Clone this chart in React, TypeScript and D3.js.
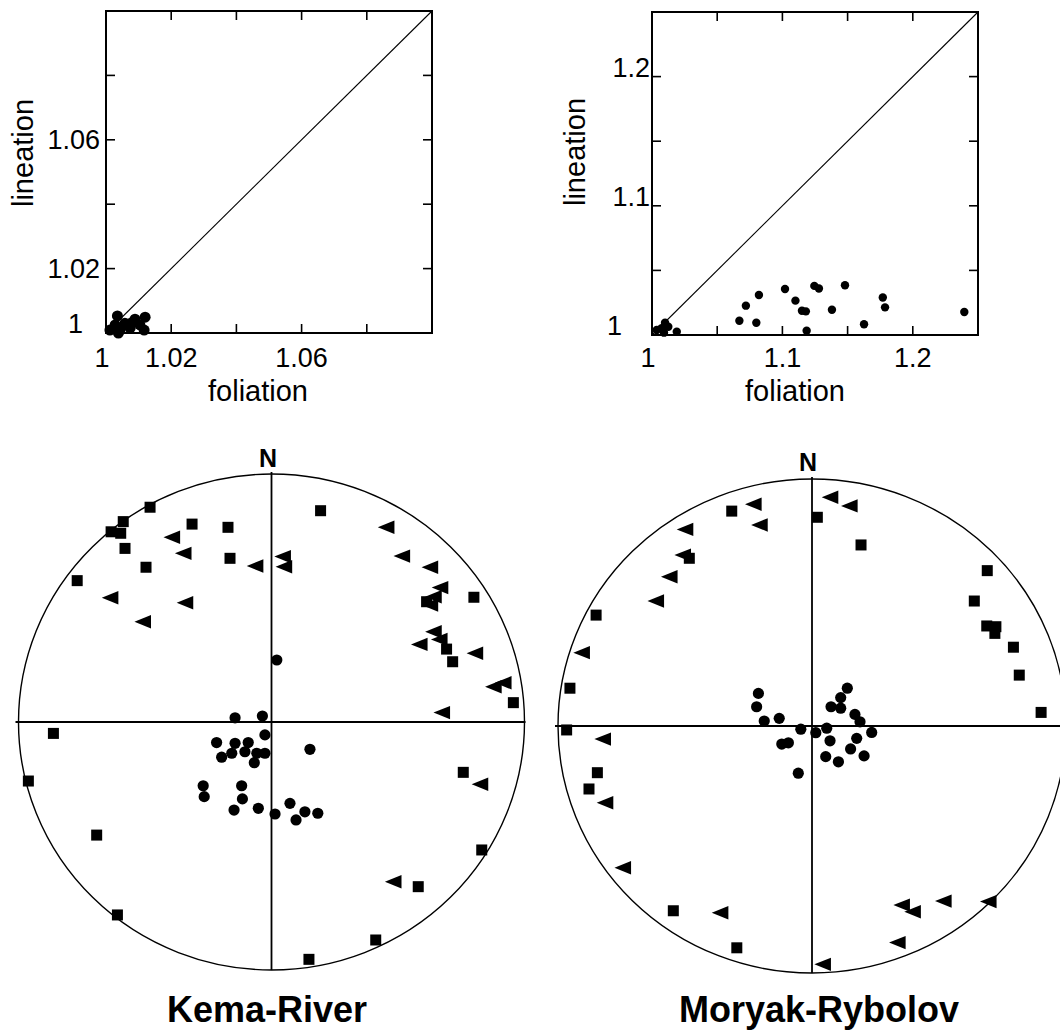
import React from "react";
import * as d3 from "d3";

// AMS fabric plots: [foliation, lineation]
const kemaFabric: [number, number][] = [
  [1.0012, 1.0009], [1.0028, 1.0025], [1.0035, 1.0053], [1.0043, 1.0009],
  [1.0038, 1.0], [1.0058, 1.003], [1.0079, 1.0032], [1.0089, 1.0043],
  [1.0104, 1.0025], [1.012, 1.0049], [1.0117, 1.0009], [1.0074, 1.0015],
];
const moryakFabric: [number, number][] = [
  [1.0036, 1.0039], [1.0074, 1.0052], [1.01, 1.0095], [1.0125, 1.0064],
  [1.0092, 1.0018], [1.019, 1.0026], [1.067, 1.011], [1.072, 1.0227],
  [1.08, 1.0095], [1.082, 1.031], [1.102, 1.0356], [1.11, 1.0266],
  [1.115, 1.0188], [1.118, 1.0183], [1.1186, 1.0033], [1.1245, 1.038],
  [1.128, 1.036], [1.138, 1.0196], [1.148, 1.0385], [1.1626, 1.0083],
  [1.177, 1.029], [1.1787, 1.0214], [1.2395, 1.0178],
];

const kemaTicks = [1.02, 1.04, 1.06, 1.08];
const kemaTickLabels = [1, 1.02, 1.06];
const moryakTicks = [1.05, 1.1, 1.15, 1.2];
const moryakTickLabels = [1, 1.1, 1.2];

// stereonet points, [east, north] on the unit net
const kemaSquares: [number, number][] = [
  [-0.48, 0.866], [-0.586, 0.808], [-0.634, 0.767], [-0.596, 0.761], [-0.579, 0.7],
  [-0.314, 0.798], [-0.172, 0.785], [-0.164, 0.66], [-0.496, 0.624], [-0.768, 0.57],
  [0.194, 0.852], [0.613, 0.485], [0.8, 0.503], [0.692, 0.294], [0.716, 0.243],
  [0.956, 0.078], [-0.862, -0.046], [-0.961, -0.238], [-0.691, -0.456], [-0.609, -0.778],
  [0.758, -0.203], [0.831, -0.516], [0.58, -0.664], [0.412, -0.879], [0.148, -0.957],
];
const kemaTriangles: [number, number][] = [
  [-0.394, 0.745], [-0.349, 0.68], [-0.638, 0.501], [-0.342, 0.481], [-0.509, 0.404],
  [-0.065, 0.629], [0.044, 0.667], [0.049, 0.626], [0.453, 0.785], [0.515, 0.669],
  [0.626, 0.624], [0.666, 0.542], [0.64, 0.505], [0.626, 0.472], [0.64, 0.364],
  [0.584, 0.313], [0.663, 0.333], [0.804, 0.277], [0.877, 0.142], [0.916, 0.158],
  [0.673, 0.038], [0.824, -0.251], [0.481, -0.644],
];
const kemaCircles: [number, number][] = [
  [0.021, 0.25], [-0.144, 0.017], [-0.036, 0.024], [-0.026, -0.052], [-0.217, -0.083],
  [-0.144, -0.086], [-0.092, -0.083], [-0.197, -0.142], [-0.157, -0.126], [-0.105, -0.12],
  [-0.058, -0.126], [-0.026, -0.126], [-0.068, -0.164], [0.152, -0.11], [-0.27, -0.257],
  [-0.266, -0.301], [-0.118, -0.257], [-0.115, -0.31], [-0.148, -0.355], [-0.052, -0.348],
  [0.014, -0.371], [0.073, -0.328], [0.132, -0.362], [0.183, -0.368], [0.097, -0.395],
];

const moryakSquares: [number, number][] = [
  [-0.316, 0.87], [0.021, 0.845], [0.193, 0.733], [-0.483, 0.679], [-0.85, 0.449],
  [-0.953, 0.153], [-0.966, -0.016], [0.69, 0.629], [0.639, 0.506], [0.688, 0.405],
  [0.724, 0.402], [0.72, 0.375], [0.793, 0.319], [0.816, 0.206], [0.902, 0.055],
  [-0.845, -0.189], [-0.878, -0.255], [-0.546, -0.748], [-0.296, -0.898],
];
const moryakTriangles: [number, number][] = [
  [-0.231, 0.898], [-0.207, 0.814], [-0.5, 0.796], [-0.509, 0.692], [-0.562, 0.604],
  [-0.615, 0.506], [-0.907, 0.297], [0.071, 0.926], [0.147, 0.891], [-0.824, -0.053],
  [-0.815, -0.311], [-0.745, -0.574], [-0.362, -0.756], [0.353, -0.725], [0.396, -0.752],
  [0.517, -0.709], [0.694, -0.711], [0.336, -0.877], [0.042, -0.965],
];
const moryakCircles: [number, number][] = [
  [-0.211, 0.132], [-0.218, 0.078], [-0.188, 0.02], [-0.129, 0.031], [0.139, 0.153],
  [0.113, 0.115], [0.075, 0.078], [0.113, 0.072], [0.169, 0.047], [0.189, 0.017],
  [-0.044, -0.013], [0.058, -0.009], [0.235, -0.026], [0.015, -0.027], [0.071, -0.06],
  [0.176, -0.05], [0.152, -0.093], [-0.119, -0.073], [-0.093, -0.068], [0.054, -0.124],
  [0.104, -0.145], [0.205, -0.121], [-0.054, -0.191],
];

const tickFont = "'Liberation Sans', Arial, sans-serif";

type FabricProps = {
  data: [number, number][];
  max: number;
  ticks: number[];
  labels: number[];
  x0: number;
  x1: number;
  y0: number;
  y1: number;
  dotR: number;
  yDy: string;
  yGap: number;
  minGap: number;
  minDy: string;
  titleX: number;
  ylabX: number;
  ylabY: number;
};

function FabricPlot(p: FabricProps) {
  const x = d3.scaleLinear().domain([1, p.max]).range([p.x0, p.x1]);
  const y = d3.scaleLinear().domain([1, p.max]).range([p.y0, p.y1]);
  const tl = 9;
  return (
    <g fontFamily={tickFont}>
      <rect x={p.x0} y={p.y1} width={p.x1 - p.x0} height={p.y0 - p.y1}
        fill="none" stroke="#000" strokeWidth={2} />
      <line x1={x(1)} y1={y(1)} x2={x(p.max)} y2={y(p.max)} stroke="#000" strokeWidth={1.1} />
      {p.ticks.map((t) => (
        <g key={t} stroke="#000" strokeWidth={1.6}>
          <line x1={x(t)} x2={x(t)} y1={p.y0} y2={p.y0 - tl} />
          <line x1={x(t)} x2={x(t)} y1={p.y1} y2={p.y1 + tl} />
          <line x1={p.x0} x2={p.x0 + tl} y1={y(t)} y2={y(t)} />
          <line x1={p.x1} x2={p.x1 - tl} y1={y(t)} y2={y(t)} />
        </g>
      ))}
      {p.data.map((d, i) => (
        <circle key={i} cx={x(d[0])} cy={y(d[1])} r={p.dotR} fill="#000" />
      ))}
      {p.labels.map((t) => (
        <text key={"x" + t} x={x(t) - (t === 1 ? 4 : 0)} y={367} fontSize={27} textAnchor="middle">
          {t}
        </text>
      ))}
      {p.labels.map((t) => (
        <text key={"y" + t} x={p.x0 - (t === 1 ? p.minGap : p.yGap)} y={y(t)}
          dy={t === 1 ? p.minDy : p.yDy} fontSize={27} textAnchor="end">
          {t}
        </text>
      ))}
      <text x={p.titleX} y={401} fontSize={29} textAnchor="middle">foliation</text>
      <text transform={`translate(${p.ylabX},${p.ylabY}) rotate(-90)`}
        fontSize={29} textAnchor="middle">lineation</text>
    </g>
  );
}

const triangle = d3.line()([[-8.3, 0], [8.3, -6.7], [8.3, 6.7]]) + "Z";

type NetProps = {
  cx: number;
  cy: number;
  rx: number;
  ry: number;
  squares: [number, number][];
  triangles: [number, number][];
  circles: [number, number][];
  title: string;
  titleX: number;
  nX: number;
  nY: number;
};

function Stereonet(p: NetProps) {
  const x = d3.scaleLinear().domain([-1, 1]).range([p.cx - p.rx, p.cx + p.rx]);
  const y = d3.scaleLinear().domain([-1, 1]).range([p.cy + p.ry, p.cy - p.ry]);
  return (
    <g fontFamily={tickFont}>
      <ellipse cx={x(0)} cy={y(0)} rx={p.rx} ry={p.ry} fill="none" stroke="#000" strokeWidth={1.4} />
      <line x1={x(-1) - 3} x2={x(1) + 1} y1={y(0)} y2={y(0)} stroke="#000" strokeWidth={1.8} />
      <line x1={x(0)} x2={x(0)} y1={y(1) - 2} y2={y(-1)} stroke="#000" strokeWidth={1.8} />
      {p.squares.map((d, i) => (
        <rect key={"s" + i} x={x(d[0]) - 5.5} y={y(d[1]) - 5.5} width={11} height={11} fill="#000" />
      ))}
      {p.triangles.map((d, i) => (
        <path key={"t" + i} d={triangle} transform={`translate(${x(d[0])},${y(d[1])})`} fill="#000" />
      ))}
      {p.circles.map((d, i) => (
        <circle key={"c" + i} cx={x(d[0])} cy={y(d[1])} r={5.6} fill="#000" />
      ))}
      <text x={p.nX} y={p.nY} fontSize={25} fontWeight="bold" textAnchor="middle">N</text>
      <text x={p.titleX} y={1022} fontSize={36} fontWeight="bold" textAnchor="middle">{p.title}</text>
    </g>
  );
}

export default function App() {
  return (
    <svg width={1060} height={1034} style={{ position: "absolute", left: 0, top: 0, background: "#fff" }}>
      <rect width={1060} height={1034} fill="#fff" />
      <FabricPlot data={kemaFabric} max={1.1} ticks={kemaTicks} labels={kemaTickLabels}
        x0={106} x1={432} y0={333} y1={11} dotR={5.5} yDy="0.35em" yGap={6} minGap={23} minDy="0"
        titleX={258} ylabX={33} ylabY={153} />
      <FabricPlot data={moryakFabric} max={1.25} ticks={moryakTicks} labels={moryakTickLabels}
        x0={652} x1={978} y0={335} y1={12} dotR={4.2} yDy="0" yGap={2} minGap={30} minDy="0"
        titleX={795} ylabX={585} ylabY={152} />
      <Stereonet cx={271.5} cy={722} rx={253} ry={248} squares={kemaSquares}
        triangles={kemaTriangles} circles={kemaCircles} title="Kema-River"
        titleX={267} nX={268} nY={467} />
      <Stereonet cx={812} cy={726} rx={254} ry={247} squares={moryakSquares}
        triangles={moryakTriangles} circles={moryakCircles} title="Moryak-Rybolov"
        titleX={819} nX={808} nY={471} />
    </svg>
  );
}
